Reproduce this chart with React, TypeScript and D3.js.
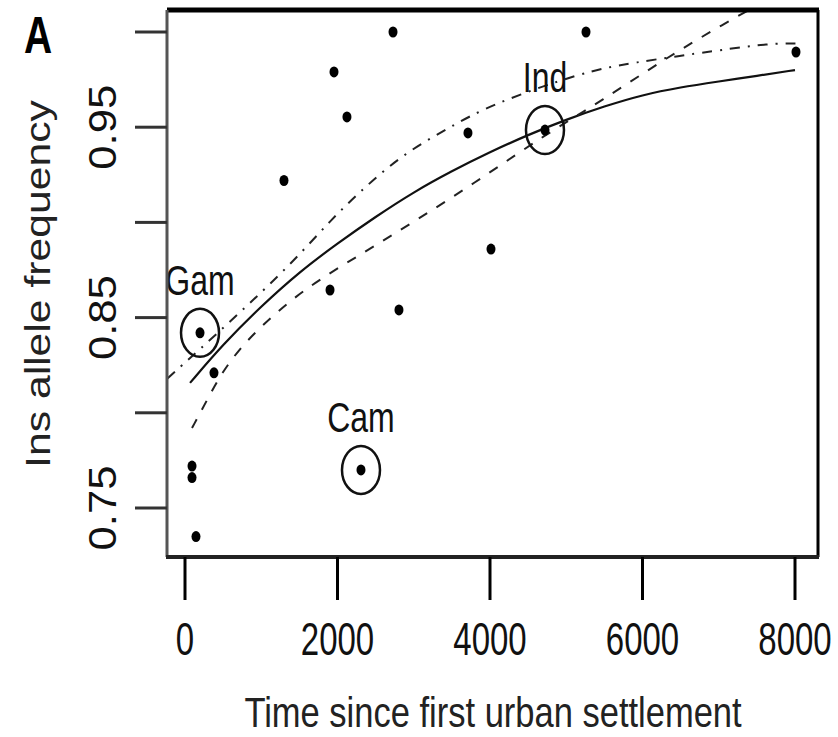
import React from 'react';
import * as d3 from 'd3';

// populations: years since first urban settlement vs Ins allele frequency
const timeYears = [144, 92, 92, 197, 380, 1298, 1902, 1954, 2124, 2728, 2806, 2308, 3711, 4013, 4721, 5259, 8013];
const insFreq = [0.735, 0.772, 0.766, 0.842, 0.821, 0.922, 0.8645, 0.979, 0.9554, 1.0, 0.854, 0.770, 0.947, 0.886, 0.9485, 1.0, 0.9895];

// circled populations
const labelNames = ['Gam', 'Cam', 'Ind'];
const labelTime = [197, 2308, 4721];
const labelFreq = [0.842, 0.770, 0.9485];

// solid fitted curve
const fitTime = [66, 500, 1000, 1500, 2000, 2500, 3000, 3500, 4000, 4500, 5000, 5500, 6000, 6500, 7000, 7500, 8000];
const fitFreq = [0.8157, 0.836, 0.856, 0.874, 0.889, 0.903, 0.916, 0.927, 0.937, 0.946, 0.954, 0.961, 0.967, 0.971, 0.974, 0.977, 0.98];

// dash-dot curve
const dotDashTime = [-230, 590, 1416, 1902, 2387, 2885, 3475, 4000, 5220, 5836, 7016, 7672, 8013];
const dotDashFreq = [0.818, 0.8477, 0.879, 0.901, 0.9196, 0.9365, 0.95, 0.9617, 0.979, 0.9837, 0.9905, 0.994, 0.994];

// dashed curve
const dashTime = [92, 289, 630, 1469, 2256, 3043, 3895, 4721, 5482, 6269, 7108, 7541];
const dashFreq = [0.792, 0.8067, 0.832, 0.863, 0.882, 0.9013, 0.9233, 0.946, 0.9643, 0.9853, 1.0053, 1.0147];

const xTicks = [0, 2000, 4000, 6000, 8000];
const yTicks = [0.75, 0.8, 0.85, 0.9, 0.95, 1.0];
const yTickLabels = ['0.75', '', '0.85', '', '0.95', ''];

const W = 838;
const H = 737;
const box = { left: 167, right: 818, top: 10, bottom: 557 };
const font = '"Liberation Sans", Arial, Helvetica, sans-serif';

export default function App() {
  const x = d3.scaleLinear().domain([0, 8000]).range([185, 795]);
  const y = d3.scaleLinear().domain([0.75, 1.0]).range([508, 32]);

  const line = d3.line<[number, number]>()
    .x(d => x(d[0]))
    .y(d => y(d[1]))
    .curve(d3.curveBasis);

  const fitPath = line(fitTime.map((t, i) => [t, fitFreq[i]]));
  const dotDashPath = line(dotDashTime.map((t, i) => [t, dotDashFreq[i]]));
  const dashPath = line(dashTime.map((t, i) => [t, dashFreq[i]]));

  return (
    <svg width={W} height={H} style={{ position: 'absolute', left: 0, top: 0, background: '#fff' }}
      fontFamily={font}>
      <defs>
        <clipPath id="plotClip">
          <rect x={box.left} y={box.top} width={box.right - box.left} height={box.bottom - box.top} />
        </clipPath>
      </defs>
      <rect x={0} y={0} width={W} height={H} fill="#fff" />

      {/* panel letter */}
      <g transform="translate(24,53) scale(1,1.33)">
        <text fontSize={39} fontWeight="bold" fill="#000">A</text>
      </g>

      {/* curves */}
      <g clipPath="url(#plotClip)" fill="none">
        <path d={fitPath || ''} stroke="#111" strokeWidth={2.2} />
        <path d={dotDashPath || ''} stroke="#222" strokeWidth={2} strokeDasharray="10 8 2 8" />
        <path d={dashPath || ''} stroke="#222" strokeWidth={2} strokeDasharray="10 11" />
      </g>

      {/* points */}
      {timeYears.map((t, i) => (
        <ellipse key={'p' + i} cx={x(t)} cy={y(insFreq[i])} rx={4.5} ry={5.5} fill="#000" />
      ))}

      {/* circled populations */}
      {labelNames.map((n, i) => (
        <g key={n}>
          <ellipse cx={x(labelTime[i])} cy={y(labelFreq[i])} rx={19} ry={24}
            fill="none" stroke="#111" strokeWidth={2.5} />
          <g transform={`translate(${x(labelTime[i])},${y(labelFreq[i]) - 38}) scale(1,1.35)`}>
            <text textAnchor="middle" fontSize={32} fill="#111">{n}</text>
          </g>
        </g>
      ))}

      {/* frame */}
      <line x1={box.left} x2={box.right + 1} y1={box.top} y2={box.top} stroke="#000" strokeWidth={5} />
      <line x1={box.right} x2={box.right} y1={box.top} y2={box.bottom} stroke="#000" strokeWidth={3} />
      <line x1={box.left} x2={box.left} y1={box.top} y2={box.bottom} stroke="#555" strokeWidth={3} />
      <line x1={box.left - 1} x2={box.right + 1} y1={box.bottom} y2={box.bottom} stroke="#222" strokeWidth={4} />

      {/* y axis */}
      {yTicks.map((v, i) => (
        <g key={'y' + v}>
          <line x1={135} x2={box.left} y1={y(v)} y2={y(v)} stroke="#333" strokeWidth={3} />
          {yTickLabels[i] && (
            <g transform={`translate(116,${y(v)}) rotate(-90) scale(1.12,1)`}>
              <text textAnchor="middle" fontSize={39} fill="#111">{yTickLabels[i]}</text>
            </g>
          )}
        </g>
      ))}
      <g transform="translate(50,284) rotate(-90) scale(1.22,1)">
        <text textAnchor="middle" fontSize={35} fill="#222">Ins allele frequency</text>
      </g>

      {/* x axis */}
      {xTicks.map(v => (
        <g key={'x' + v}>
          <line x1={x(v)} x2={x(v)} y1={box.bottom} y2={600} stroke="#000" strokeWidth={3} />
          <g transform={`translate(${x(v)},655) scale(1,1.4)`}>
            <text textAnchor="middle" fontSize={33} fill="#111">{v}</text>
          </g>
        </g>
      ))}
      <g transform="translate(493,727) scale(1,1.25)">
        <text textAnchor="middle" fontSize={34.5} fill="#222">Time since first urban settlement</text>
      </g>
    </svg>
  );
}
